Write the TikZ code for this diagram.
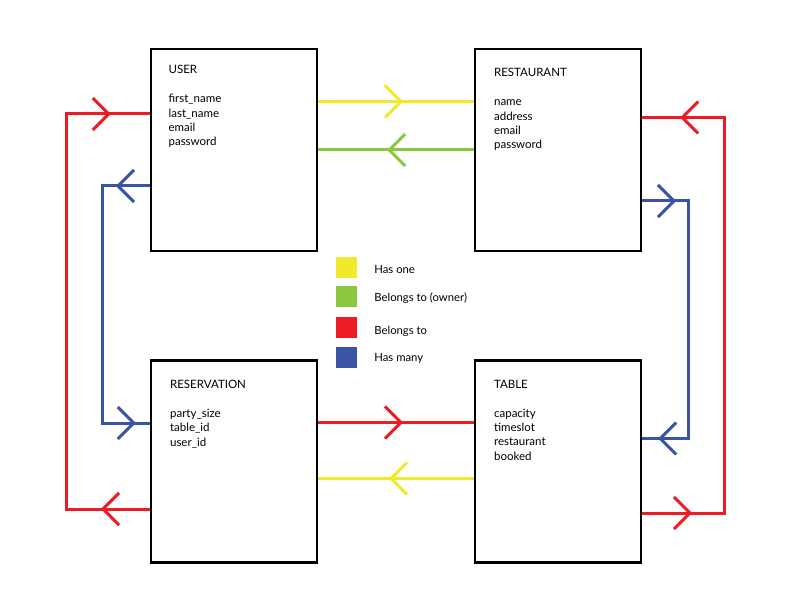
\documentclass[tikz,border=0pt]{standalone}
\usepackage{fontspec}
\setmainfont{Lato}
\usetikzlibrary{arrows.meta}
\usetikzlibrary{positioning}
\usetikzlibrary{decorations.markings}
\definecolor{hasone}{HTML}{F1E92B}
\definecolor{owner}{HTML}{8DC63F}
\definecolor{belongsto}{HTML}{ED1C24}
\definecolor{hasmany}{HTML}{3A53A4}
\tikzset{
    /pgf/decoration/Barb/.style={
        mark=at position #1 with {\arrow{Straight Barb[length=16pt,width=32pt]}}
    },
    barbs/.style={
        postaction={
            decorate,decoration={
                markings,Barb/.list={#1}
            }
        }
    },
    entity/.style={draw,line width=2.2pt,minimum width=166pt,minimum height=202pt,inner sep=0pt},
    fields/.style={anchor=north west,align=left,inner sep=0pt,font=\fontsize{11.5}{14.4}\selectfont},
    link/.style={line width=3pt},
    swatch/.style={minimum size=21pt,inner sep=0pt},
    keytext/.style={inner sep=0pt,yshift=-1.5pt,font=\fontsize{11.3}{13}\selectfont},
}

\begin{document}
\begin{tikzpicture}[x=1pt,y=-1pt]
\useasboundingbox (0,0) rectangle (792,612);
\node[entity] (user) at (234,150) {};
\node[entity] (restaurant) at (558,150) {};
\node[entity] (reservation) at (234,461.5) {};
\node[entity] (table) at (558,461.5) {};
\node[fields] (userfields) at ([xshift=18.5pt,yshift=-17.5pt]user.north west) {USER\\[14.4pt]first\_name\\last\_name\\email\\password};
\node[fields] (restaurantfields) at ([xshift=20pt,yshift=-20.5pt]restaurant.north west) {RESTAURANT\\[14.4pt]name\\address\\email\\password};
\node[fields] (reservationfields) at ([xshift=20pt,yshift=-20.5pt]reservation.north west) {RESERVATION\\[14.4pt]party\_size\\table\_id\\user\_id};
\node[fields] (tablefields) at ([xshift=20pt,yshift=-20.5pt]table.north west) {TABLE\\[14.4pt]capacity\\timeslot\\restaurant\\booked};
% key
\node[swatch,fill=hasone] (k1) at (346.5,268) {};
\node[swatch,fill=owner] (k2) at (346.5,296.5) {};
\node[swatch,fill=belongsto] (k3) at (346.5,327) {};
\node[swatch,fill=hasmany] (k4) at (346.5,357) {};
\node[keytext,right=17pt of k1] (t1) {Has one};
\node[keytext,right=17pt of k2] (t2) {Belongs to (owner)};
\node[keytext,right=17pt of k3,yshift=-2.5pt] (t3) {Belongs to};
\node[keytext,right=17pt of k4] (t4) {Has many};
% links
\draw[link,hasone,barbs={0.545}] ([yshift=48.5pt]user.east) -- ([yshift=48.5pt]restaurant.west);
\draw[link,owner,barbs={0.557}] (restaurant.west) -- (user.east);
\draw[link,belongsto,barbs={0.545}] ([yshift=39pt]reservation.east) -- ([yshift=39pt]table.west);
\draw[link,hasone,barbs={0.545}] ([yshift=-17pt]table.west) -- ([yshift=-17pt]reservation.east);
\draw[link,belongsto,barbs={49pt,-39pt}] ([yshift=-47.5pt]reservation.west) -- ++(-83,0) |- ([yshift=36pt]user.west);
\draw[link,hasmany,barbs={34pt,-14pt}] ([yshift=-36pt]user.west) -- ++(-47,0) |- ([yshift=38.5pt]reservation.west);
\draw[link,belongsto,barbs={50pt,-38pt}] ([yshift=-51.5pt]table.east) -- ++(82,0) |- ([yshift=32.5pt]restaurant.east);
\draw[link,hasmany,barbs={34pt,-16pt}] ([yshift=-51pt]restaurant.east) -- ++(46,0) |- ([yshift=23pt]table.east);
\end{tikzpicture}
\end{document}
